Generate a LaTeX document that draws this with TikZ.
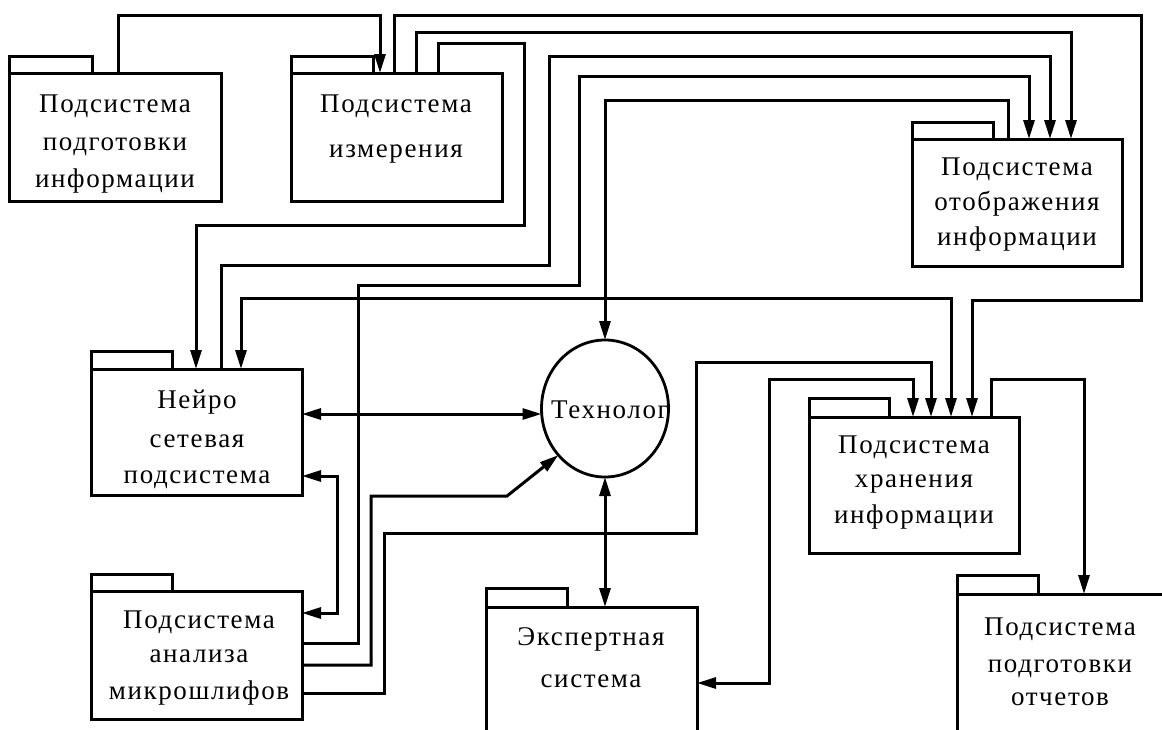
\documentclass[tikz,border=0pt]{standalone}
\usepackage{fontspec}
\newfontfamily\reffont[LetterSpace=6]{Liberation Serif}
\usetikzlibrary{arrows.meta,shapes.geometric}
\begin{document}
\begin{tikzpicture}[x=1pt,y=-1pt,
  ln/.style={line width=3pt},
  arr/.style={ln,-{Triangle[length=19pt,width=11pt]}},
  barr/.style={ln,{Triangle[length=19pt,width=11pt]}-{Triangle[length=19pt,width=11pt]}},
  pkg/.style={draw,line width=3pt,rectangle,outer sep=0pt,inner sep=0pt},
  tab/.style={draw,line width=3pt},
  lbl/.style={anchor=base,inner sep=0pt,font=\reffont\fontsize{27}{30}\selectfont}]
\useasboundingbox (0,0) rectangle (1162,729);
\clip (0,0) rectangle (1162,729);

% packages
\node[pkg,minimum width=212pt,minimum height=128pt] (ppi) at (115,137) {};
\draw[tab] (ppi.north west) rectangle ++(83,-17);
\node[pkg,minimum width=211pt,minimum height=128pt] (piz) at (396.5,137) {};
\draw[tab] (piz.north west) rectangle ++(82,-17);
\node[pkg,minimum width=210pt,minimum height=127pt] (otob) at (1017,202.5) {};
\draw[tab] (otob.north west) rectangle ++(81,-17);
\node[pkg,minimum width=211pt,minimum height=126pt] (neuro) at (196.5,432) {};
\draw[tab] (neuro.north west) rectangle ++(81,-18);
\node[pkg,minimum width=211pt,minimum height=128pt] (anal) at (196.5,655) {};
\draw[tab] (anal.north west) rectangle ++(81,-17);
\node[pkg,minimum width=210pt,minimum height=136pt] (xr) at (914,485) {};
\draw[tab] (xr.north west) rectangle ++(80,-19);
\node[pkg,minimum width=228pt,minimum height=166pt] (otch) at (1071,677) {};
\draw[tab] (otch.north west) rectangle ++(81,-19);
\node[pkg,minimum width=211pt,minimum height=153pt] (eks) at (591.5,683.5) {};
\draw[tab] (eks.north west) rectangle ++(81,-19);
\node[draw,ellipse,line width=2.8pt,minimum width=127pt,minimum height=137pt,inner sep=0pt,outer sep=0pt] (tech) at (605,408.5) {};

% labels
\node[lbl] (ppi1) at (115,112) {Подсистема};
\node[lbl] (ppi2) at (115,150) {подготовки};
\node[lbl] (ppi3) at (115,187) {информации};
\node[lbl] (piz1) at (396,112) {Подсистема};
\node[lbl] (piz2) at (396,157) {измерения};
\node[lbl] (otob1) at (1017,175) {Подсистема};
\node[lbl] (otob2) at (1017,210) {отображения};
\node[lbl] (otob3) at (1017,245) {информации};
\node[lbl] (neuro1) at (197,408) {Нейро};
\node[lbl] (neuro2) at (197,447) {сетевая};
\node[lbl] (neuro3) at (197,483) {подсистема};
\node[lbl] (anal1) at (199,628) {Подсистема};
\node[lbl] (anal2) at (199,662) {анализа};
\node[lbl] (anal3) at (199,699) {микрошлифов};
\node[lbl] (xr1) at (914,453) {Подсистема};
\node[lbl] (xr2) at (914,487) {хранения};
\node[lbl] (xr3) at (914,523) {информации};
\node[lbl] (otch1) at (1060,635) {Подсистема};
\node[lbl] (otch2) at (1060,672) {подготовки};
\node[lbl] (otch3) at (1060,705) {отчетов};
\node[lbl] (eks1) at (591,645) {Экспертная};
\node[lbl] (eks2) at (591,687) {система};
\node[lbl] (tech1) at (610,418) {Технолог};

% connectors
\draw[arr] (118,0 |- ppi.north) -- (118,15) -| (380,0 |- piz.north);
\draw[arr] (394,0 |- piz.north) -- (394,15) -- (1141,15) -- (1141,300) -- (972,300) -- (972,0 |- xr.north);
\draw[arr] (416,0 |- piz.north) -- (416,32) -| (1071,0 |- otob.north);
\draw[arr] (438,0 |- piz.north) -- (438,43) -- (524,43) -- (524,225) -- (196,225) -- (196,0 |- neuro.north);
\draw[arr] (221,0 |- neuro.north) -- (221,265) -- (549,265) -- (549,56) -| (1050,0 |- otob.north);
\draw[arr] (anal.east |- 0,643) -- (358,643) -- (358,285) -- (579,285) -- (579,76) -| (1029,0 |- otob.north);
\draw[arr] (1008,0 |- otob.north) -- (1008,100) -| (tech.north);
\coordinate (j1) at (605,298);
\draw[arr] (j1) -| (241,0 |- neuro.north);
\draw[arr] (j1) -| (951,0 |- xr.north);
\draw[barr] (913,0 |- xr.north) -- (913,379) -- (769,379) -- (769,683) -- (eks.east |- 0,683);
\draw[arr] (anal.east |- 0,693) -- (384,693) -- (384,533) -- (696,533) -- (696,362) -| (931,0 |- xr.north);
\draw[arr] (991,0 |- xr.north) -- (991,379) -| (1084,0 |- otch.north);
\draw[barr] (neuro.east |- 0,414) -- (tech.west |- 0,414);
\draw[barr] (neuro.east |- 0,476) -- (337,476) -- (337,613) -- (anal.east |- 0,613);
\draw[arr] (anal.east |- 0,665) -- (371,665) -- (371,496) -- (507,496) -- (tech.225);
\draw[barr] (tech.south) -- (tech.south |- eks.north);
\end{tikzpicture}
\end{document}
